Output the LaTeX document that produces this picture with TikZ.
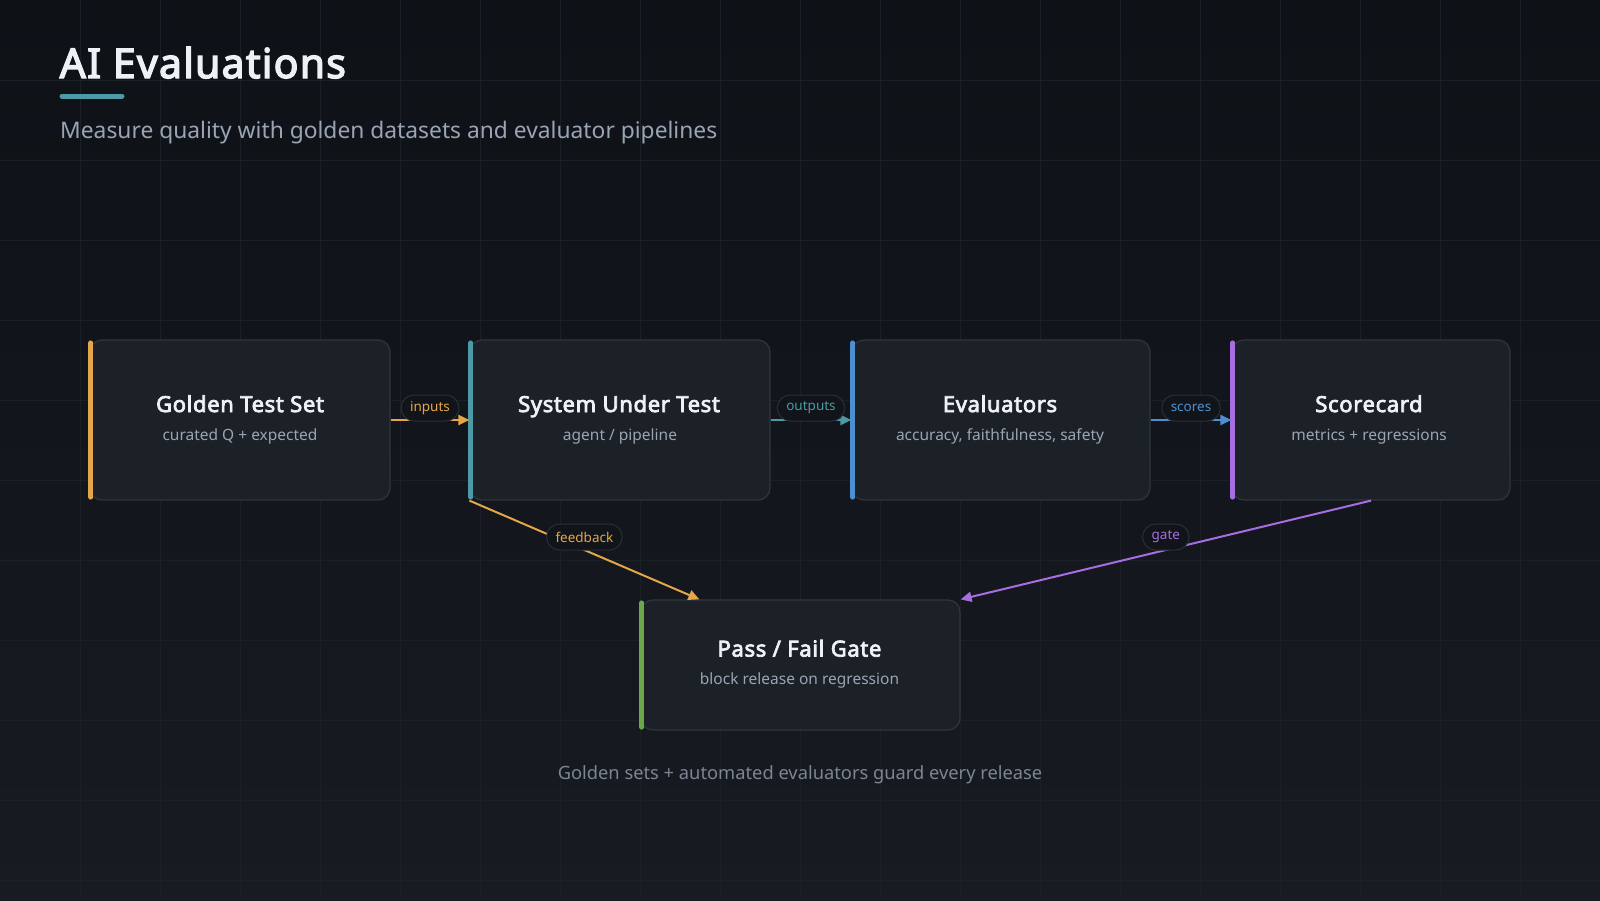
\documentclass[tikz,border=0pt]{standalone}
\usepackage{fontspec}
\setmainfont{Noto Sans}[BoldFont={Noto Sans}, BoldFeatures={FakeBold=3.4,LetterSpace=3}]
\usetikzlibrary{arrows.meta,calc}
\definecolor{bgtop}{HTML}{0E1116}
\definecolor{bgbot}{HTML}{171B22}
\definecolor{gridc}{HTML}{1B1F26}
\definecolor{boxfill}{HTML}{1C2027}
\definecolor{boxline}{HTML}{30363F}
\definecolor{titlec}{HTML}{EEF2F7}
\definecolor{subc}{HTML}{9AA5B4}
\definecolor{corange}{HTML}{E3A64A}
\definecolor{cteal}{HTML}{4B9AA6}
\definecolor{cblue}{HTML}{4E90CF}
\definecolor{cpurple}{HTML}{A66EE0}
\definecolor{cgreen}{HTML}{6AA84A}
\definecolor{pillfill}{HTML}{111419}
\definecolor{pillline}{HTML}{2A2F37}
\definecolor{footc}{HTML}{7B8594}
\tikzset{
  card/.style={draw=boxline, line width=1.2pt, fill=boxfill, rounded corners=12pt, inner sep=0pt},
  bartone/.style={line width=5pt, line cap=round},
  cardtitle/.style={anchor=base, font=\bfseries\fontsize{22}{26}\selectfont, text=titlec, inner sep=0pt},
  cardsub/.style={anchor=base, font=\fontsize{15.5}{18}\selectfont, text=subc, inner sep=0pt},
  pill/.style={draw=pillline, line width=1pt, fill=pillfill, rounded corners=13pt, minimum height=26pt, inner xsep=9pt, inner ysep=0pt, font=\fontsize{13.5}{15}\selectfont},
  conn/.style={line width=2pt, -{Triangle[length=11pt,width=10pt]}},
}
\begin{document}
\begin{tikzpicture}[x=1pt,y=-1pt]
\useasboundingbox (0,0) rectangle (1600,900);
\shade[top color=bgtop, bottom color=bgbot] (0,0) rectangle (1600,900);
\foreach \i in {80,160,...,1520} \draw[gridc, line width=1pt] (\i,0) -- (\i,900);
\foreach \j in {80,160,...,880} \draw[gridc, line width=1pt] (0,\j) -- (1600,\j);

% header
\node[anchor=base west, inner sep=0pt, font=\bfseries\fontsize{41}{48}\selectfont, text=titlec] (title) at (59.5,78) {AI Evaluations};
\coordinate (ulA) at (62,96);
\coordinate (ulB) at (122,96);
\draw[cteal, line width=5pt, line cap=round] (ulA) -- (ulB);
\node[anchor=base west, inner sep=0pt, font=\fontsize{22.8}{27}\selectfont, text=subc] (subtitle) at (60,138) {Measure quality with golden datasets and evaluator pipelines};

% cards
\node[card, minimum width=300pt, minimum height=160pt] (g) at (240,420) {};
\node[card, minimum width=300pt, minimum height=160pt] (s) at (620,420) {};
\node[card, minimum width=298pt, minimum height=160pt] (e) at (1001,420) {};
\node[card, minimum width=278pt, minimum height=160pt] (sc) at (1371,420) {};
\node[card, minimum width=319pt, minimum height=130pt] (p) at (800.5,665) {};

% accent bars
\draw[bartone, corange] ($(g.north west)+(1.5,3.5)$) -- ($(g.south west)+(1.5,-3.5)$);
\draw[bartone, cteal] ($(s.north west)+(1.5,3.5)$) -- ($(s.south west)+(1.5,-3.5)$);
\draw[bartone, cblue] ($(e.north west)+(1.5,3.5)$) -- ($(e.south west)+(1.5,-3.5)$);
\draw[bartone, cpurple] ($(sc.north west)+(1.5,3.5)$) -- ($(sc.south west)+(1.5,-3.5)$);
\draw[bartone, cgreen] ($(p.north west)+(1.5,3.5)$) -- ($(p.south west)+(1.5,-3.5)$);

% card texts
\node[cardtitle] (gt) at ($(g.center)+(0,-8)$) {Golden Test Set};
\node[cardsub] (gs) at ($(g.center)+(0,20)$) {curated Q + expected};
\node[cardtitle] (st) at ($(s.center)+(-1,-8)$) {System Under Test};
\node[cardsub] (ss) at ($(s.center)+(0,20)$) {agent / pipeline};
\node[cardtitle] (et) at ($(e.center)+(-1,-8)$) {Evaluators};
\node[cardsub] (es) at ($(e.center)+(-1,20)$) {accuracy, faithfulness, safety};
\node[cardtitle] (sct) at ($(sc.center)+(-2,-8)$) {Scorecard};
\node[cardsub] (scs) at ($(sc.center)+(-2,20)$) {metrics + regressions};
\node[cardtitle] (pt) at ($(p.center)+(-1,-8.5)$) {Pass / Fail Gate};
\node[cardsub] (ps) at ($(p.center)+(-1,19.5)$) {block release on regression};

% connectors
\coordinate (fbend) at ($(p.north west)+(59,0)$);
\draw[conn, corange] (g.east) -- node[pill, yshift=12pt, text=corange] {inputs} (s.west);
\draw[conn, cteal] (s.east) -- node[pill, yshift=12pt, text=cteal] {outputs} (e.west);
\draw[conn, cblue] (e.east) -- node[pill, yshift=12pt, text=cblue] {scores} (sc.west);
\draw[conn, corange] (s.south west) -- node[pill, yshift=13pt, text=corange] {feedback} (fbend);
\draw[conn, cpurple] (sc.south) -- node[pill, yshift=13pt, text=cpurple] {gate} (p.north east);

% footer
\node[font=\fontsize{18.3}{22}\selectfont, text=footc, inner sep=0pt] (foot) at (800,775) {Golden sets + automated evaluators guard every release};
\end{tikzpicture}
\end{document}
